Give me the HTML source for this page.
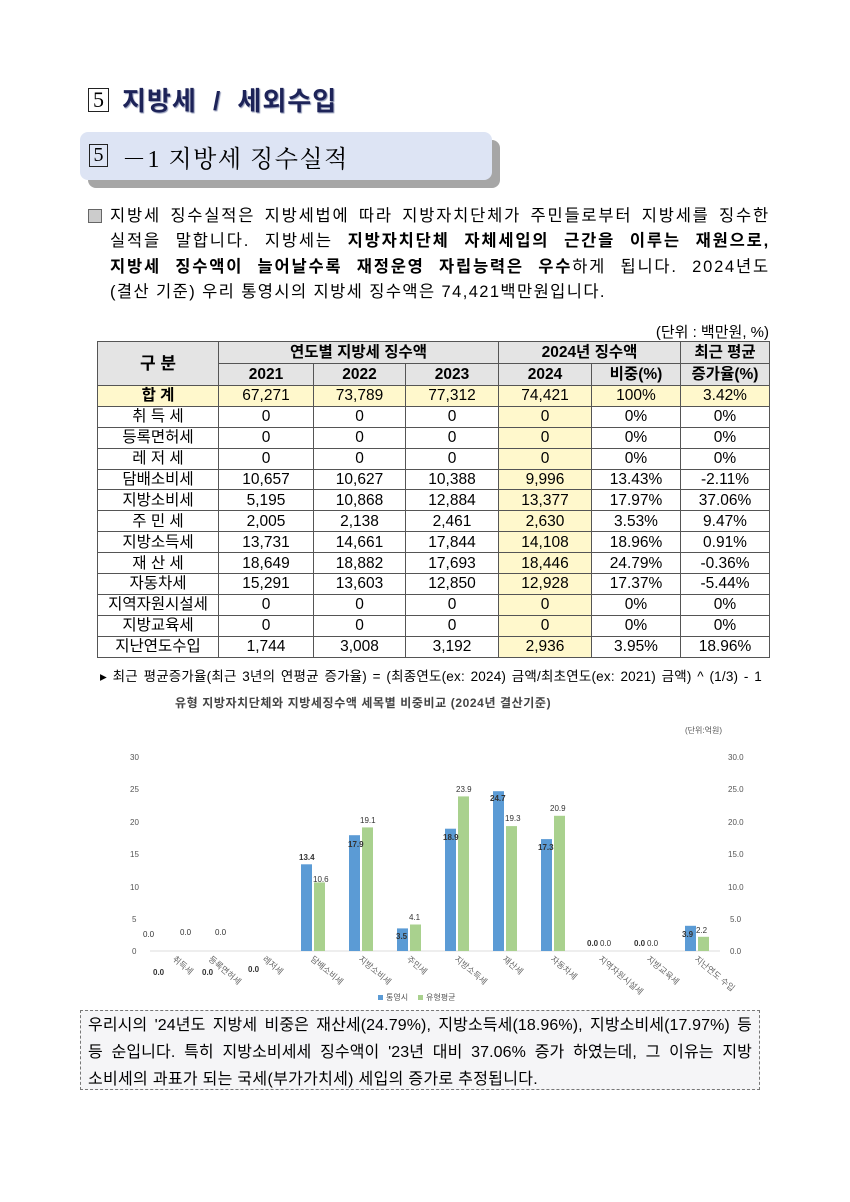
<!DOCTYPE html>
<html><head><meta charset="utf-8"><style>
body{margin:0;width:850px;height:1202px;background:#fff;position:relative;font-family:"Liberation Sans","Noto Sans CJK KR",sans-serif;color:#000;overflow:hidden}
.a{position:absolute;white-space:nowrap}
.j{display:block;text-align:justify;text-align-last:justify;white-space:normal}
table{position:absolute;left:97px;top:341px;border-collapse:collapse;font-size:15.5px;font-family:"Liberation Sans","Noto Sans CJK KR",sans-serif}
td{border:1px solid #555;text-align:center;padding:0;height:19.9px;line-height:19px}
.h td{background:#e4e4e4;font-weight:bold;height:21px}
.y{background:#fff8cc}
.tot td{background:#fff8cc}
</style></head><body>
<div class="a" style="left:88px;top:88px;width:19px;height:22px;border:1.5px solid #222;font:22px 'Liberation Serif',serif;line-height:22px;text-align:center">5</div>
<div class="a" style="left:122px;top:81px;font-size:26px;font-weight:bold;color:#1d2358;text-shadow:1px 1px 1px #8890b0;letter-spacing:1px;word-spacing:8px">지방세 / 세외수입</div>
<div class="a" style="left:88px;top:140px;width:412px;height:48px;background:#a6a6a6;border-radius:8px"></div>
<div class="a" style="left:80px;top:132px;width:412px;height:48px;background:#dde4f4;border-radius:8px"></div>
<div class="a" style="left:89px;top:144px;width:17px;height:21px;border:1px solid #222;font:20px 'Liberation Serif',serif;line-height:21px;text-align:center">5</div>
<div class="a" style="left:122px;top:139px;font:24px 'Liberation Serif','Noto Serif CJK SC',serif;letter-spacing:1.5px">－1 지방세 징수실적</div>
<div class="a" style="left:88px;top:209px;width:12px;height:12px;border:1px solid #666;background:#ccc"></div>
<div class="a" style="left:110px;top:204px;width:660px;font-size:16.5px;line-height:25.3px;letter-spacing:1.8px">
<span class="j">지방세 징수실적은 지방세법에 따라 지방자치단체가 주민들로부터 지방세를 징수한</span>
<span class="j">실적을 말합니다. 지방세는 <b>지방자치단체 자체세입의 근간을 이루는 재원으로,</b></span>
<span class="j"><b>지방세 징수액이 늘어날수록 재정운영 자립능력은 우수</b>하게 됩니다. 2024년도</span>
<span style="letter-spacing:1.4px">(결산 기준) 우리 통영시의 지방세 징수액은 74,421백만원입니다.</span></div>
<div class="a" style="left:600px;width:169px;text-align:right;top:321px;font-size:15px">(단위 : 백만원, %)</div>
<table>
<tr class="h"><td rowspan="2" style="width:120px;font-size:17px">구 분</td><td colspan="3">연도별 지방세 징수액</td><td colspan="2">2024년 징수액</td><td style="width:88px">최근 평균</td></tr>
<tr class="h"><td style="width:94px">2021</td><td style="width:91px">2022</td><td style="width:92px">2023</td><td style="width:92px">2024</td><td style="width:88px">비중(%)</td><td>증가율(%)</td></tr>
<tr class="tot"><td><b>합 계</b></td><td>67,271</td><td>73,789</td><td>77,312</td><td>74,421</td><td>100%</td><td>3.42%</td></tr>
<tr><td>취 득 세</td><td>0</td><td>0</td><td>0</td><td class="y">0</td><td>0%</td><td>0%</td></tr>
<tr><td>등록면허세</td><td>0</td><td>0</td><td>0</td><td class="y">0</td><td>0%</td><td>0%</td></tr>
<tr><td>레 저 세</td><td>0</td><td>0</td><td>0</td><td class="y">0</td><td>0%</td><td>0%</td></tr>
<tr><td>담배소비세</td><td>10,657</td><td>10,627</td><td>10,388</td><td class="y">9,996</td><td>13.43%</td><td>-2.11%</td></tr>
<tr><td>지방소비세</td><td>5,195</td><td>10,868</td><td>12,884</td><td class="y">13,377</td><td>17.97%</td><td>37.06%</td></tr>
<tr><td>주 민 세</td><td>2,005</td><td>2,138</td><td>2,461</td><td class="y">2,630</td><td>3.53%</td><td>9.47%</td></tr>
<tr><td>지방소득세</td><td>13,731</td><td>14,661</td><td>17,844</td><td class="y">14,108</td><td>18.96%</td><td>0.91%</td></tr>
<tr><td>재 산 세</td><td>18,649</td><td>18,882</td><td>17,693</td><td class="y">18,446</td><td>24.79%</td><td>-0.36%</td></tr>
<tr><td>자동차세</td><td>15,291</td><td>13,603</td><td>12,850</td><td class="y">12,928</td><td>17.37%</td><td>-5.44%</td></tr>
<tr><td>지역자원시설세</td><td>0</td><td>0</td><td>0</td><td class="y">0</td><td>0%</td><td>0%</td></tr>
<tr><td>지방교육세</td><td>0</td><td>0</td><td>0</td><td class="y">0</td><td>0%</td><td>0%</td></tr>
<tr><td>지난연도수입</td><td>1,744</td><td>3,008</td><td>3,192</td><td class="y">2,936</td><td>3.95%</td><td>18.96%</td></tr>
</table>
<div class="a" style="left:100px;top:665px;width:662px;font-size:13.5px;letter-spacing:0.2px"><span class="j">▸ 최근 평균증가율(최근 3년의 연평균 증가율) = (최종연도(ex: 2024) 금액/최초연도(ex: 2021) 금액) ^ (1/3) - 1</span></div>
<div class="a" style="left:175px;top:694px;font-size:12px;font-weight:bold;color:#444;letter-spacing:0.6px">유형 지방자치단체와 지방세징수액 세목별 비중비교 (2024년 결산기준)</div>
<svg class="a" style="left:0;top:0" width="850" height="1202" font-family="Liberation Sans, Noto Sans CJK KR, sans-serif">
<g font-size="8" fill="#555">
<text x="685" y="733">(단위:억원)</text>
<text x="130" y="760">30</text><text x="130" y="792">25</text><text x="130" y="825">20</text><text x="130" y="857">15</text><text x="130" y="890">10</text><text x="132" y="922">5</text><text x="132" y="954">0</text>
<text x="728" y="760">30.0</text><text x="728" y="792">25.0</text><text x="728" y="825">20.0</text><text x="728" y="857">15.0</text><text x="728" y="890">10.0</text><text x="730" y="922">5.0</text><text x="730" y="954">0.0</text>
</g>
<line x1="150" y1="951" x2="720" y2="951" stroke="#ddd"/>
<g fill="#5b9bd5">
<rect x="301" y="864.3" width="11" height="86.7"/><rect x="349" y="835.2" width="11" height="115.8"/><rect x="397" y="928.4" width="11" height="22.6"/><rect x="445" y="828.7" width="11" height="122.3"/><rect x="493" y="791.2" width="11" height="159.8"/><rect x="541" y="839.1" width="11" height="111.9"/><rect x="685" y="925.8" width="11" height="25.2"/>
</g>
<g fill="#a9d18e">
<rect x="314" y="882.4" width="11" height="68.6"/><rect x="362" y="827.4" width="11" height="123.6"/><rect x="410" y="924.5" width="11" height="26.5"/><rect x="458" y="796.4" width="11" height="154.6"/><rect x="506" y="826.1" width="11" height="124.9"/><rect x="554" y="815.8" width="11" height="135.2"/><rect x="698" y="936.8" width="11" height="14.2"/>
</g>
<g font-size="8" fill="#333">
<text x="143" y="937">0.0</text><text x="180" y="935">0.0</text><text x="215" y="935">0.0</text>
<text x="299" y="860" font-weight="bold">13.4</text><text x="313" y="882">10.6</text>
<text x="348" y="847" font-weight="bold">17.9</text><text x="360" y="823">19.1</text>
<text x="396" y="939" font-weight="bold">3.5</text><text x="409" y="920">4.1</text>
<text x="443" y="840" font-weight="bold">18.9</text><text x="456" y="792">23.9</text>
<text x="490" y="801" font-weight="bold">24.7</text><text x="505" y="821">19.3</text>
<text x="538" y="850" font-weight="bold">17.3</text><text x="550" y="811">20.9</text>
<text x="587" y="946" font-weight="bold">0.0</text><text x="600" y="946">0.0</text>
<text x="634" y="946" font-weight="bold">0.0</text><text x="647" y="946">0.0</text>
<text x="682" y="937" font-weight="bold">3.9</text><text x="696" y="933">2.2</text>
<text x="153" y="975" font-weight="bold">0.0</text><text x="202" y="975" font-weight="bold">0.0</text><text x="248" y="972" font-weight="bold">0.0</text>
</g>
<g font-size="8.5" fill="#666">
<text transform="translate(172,960) rotate(40)">취득세</text>
<text transform="translate(208,960) rotate(40)">등록면허세</text>
<text transform="translate(262,960) rotate(40)">레저세</text>
<text transform="translate(310,960) rotate(40)">담배소비세</text>
<text transform="translate(358,960) rotate(40)">지방소비세</text>
<text transform="translate(406,960) rotate(40)">주민세</text>
<text transform="translate(454,960) rotate(40)">지방소득세</text>
<text transform="translate(502,960) rotate(40)">재산세</text>
<text transform="translate(550,960) rotate(40)">자동차세</text>
<text transform="translate(598,960) rotate(40)">지역자원시설세</text>
<text transform="translate(646,960) rotate(40)">지방교육세</text>
<text transform="translate(694,960) rotate(40)">지난연도 수입</text>
</g>
<rect x="378" y="995" width="5" height="5" fill="#5b9bd5"/><text x="386" y="1000" font-size="8" fill="#555">통영시</text>
<rect x="418" y="995" width="5" height="5" fill="#a9d18e"/><text x="426" y="1000" font-size="8" fill="#555">유형평균</text>
</svg>
<div class="a" style="left:80px;top:1010px;width:678px;height:78px;border:1px dashed #777;background:#f5f5f7"></div>
<div class="a" style="left:88px;top:1012px;width:664px;font-size:16px;line-height:27px;letter-spacing:0.1px">
<span class="j">우리시의 '24년도 지방세 비중은 재산세(24.79%), 지방소득세(18.96%), 지방소비세(17.97%) 등</span>
<span class="j">등 순입니다. 특히 지방소비세세 징수액이 '23년 대비 37.06% 증가 하였는데, 그 이유는 지방</span>
<span style="letter-spacing:0.3px">소비세의 과표가 되는 국세(부가가치세) 세입의 증가로 추정됩니다.</span></div>
</body></html>
